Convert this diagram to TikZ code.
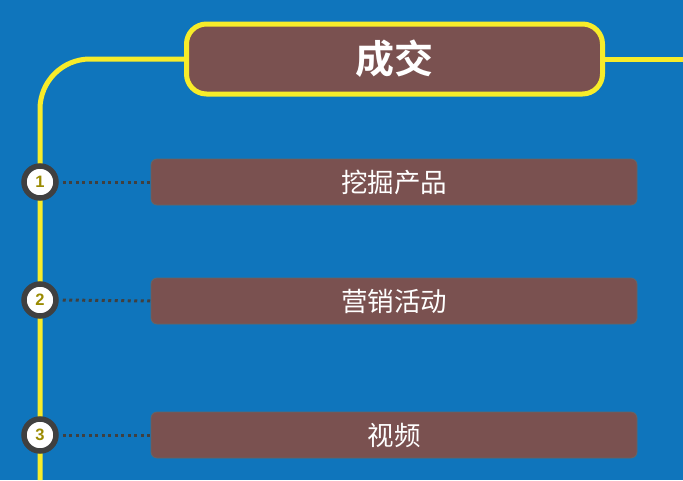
\documentclass[tikz,border=0pt]{standalone}
\usepackage{fontspec}
\setmainfont{Liberation Sans}
\newfontfamily\cjk{Noto Sans CJK SC}
\newfontfamily\cjkbold{Noto Sans CJK SC Bold}
\definecolor{bgblue}{HTML}{0F75BC}
\definecolor{boxbrown}{HTML}{7A5150}
\definecolor{lineyellow}{HTML}{F7EC2A}
\definecolor{ringgray}{HTML}{404040}
\definecolor{numolive}{HTML}{9A8A00}
\tikzset{
  mainline/.style={draw=lineyellow, line width=5pt},
  titlebox/.style={draw=lineyellow, fill=boxbrown, line width=5pt, rounded corners=20pt, minimum width=416pt, minimum height=70pt, text=white, font=\cjkbold\fontsize{39}{44}\selectfont},
  itembox/.style={draw=ringgray!80, fill=boxbrown, line width=0.8pt, rounded corners=6pt, minimum width=486pt, minimum height=46pt, text=white, font=\cjk\fontsize{26.5}{30}\selectfont},
  numcircle/.style={circle, draw=ringgray, fill=white, line width=5.5pt, minimum size=32pt, inner sep=0pt, text=numolive, font=\bfseries\fontsize{16.5}{19}\selectfont},
  dotline/.style={draw=ringgray, line width=3pt, dash pattern=on 3pt off 3.5pt}
}
\begin{document}
\begin{tikzpicture}[x=1pt,y=-1pt]
\fill[bgblue] (0,0) rectangle (683,480);
\useasboundingbox (0,0) rectangle (683,480);
% main yellow line
\coordinate (lbot) at (40,480);
\coordinate (rend) at (683,59);
\node[titlebox] (title) at (394.5,59) {成交};
\draw[mainline] (lbot) -- (40,109) arc[start angle=180, end angle=270, radius=50] -- (title.west);
\draw[mainline] (title.east) -- (rend);
% items
\node[itembox] (b1) at (394,182) {挖掘产品};
\node[itembox] (b2) at (394,301) {营销活动};
\node[itembox] (b3) at (394,435) {视频};
\node[numcircle] (c1) at (40,182) {1};
\node[numcircle] (c2) at (40,300) {2};
\node[numcircle] (c3) at (40,435) {3};
\draw[dotline] (c1.east) ++(4,0) -- (b1.west);
\draw[dotline] (c2.east) ++(4,0) -- (b2.west);
\draw[dotline] (c3.east) ++(4,0) -- (b3.west);
\end{tikzpicture}
\end{document}
